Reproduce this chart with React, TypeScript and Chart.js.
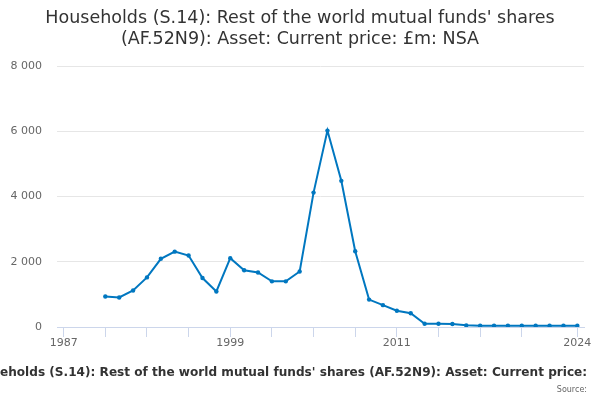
import { useEffect, useRef } from 'react';
import { Chart, registerables } from 'chart.js';

Chart.register(...registerables);

const titleLines = [
  "Households (S.14): Rest of the world mutual funds' shares",
  '(AF.52N9): Asset: Current price: £m: NSA',
];
const caption = "Households (S.14): Rest of the world mutual funds' shares (AF.52N9): Asset: Current price: £m: NSA";
const sourceText = 'Source:';

const years = [
  1990, 1991, 1992, 1993, 1994, 1995, 1996, 1997, 1998, 1999,
  2000, 2001, 2002, 2003, 2004, 2005, 2006, 2007, 2008, 2009,
  2010, 2011, 2012, 2013, 2014, 2015, 2016, 2017, 2018, 2019,
  2020, 2021, 2022, 2023, 2024,
];
const values = [
  935, 905, 1120, 1520, 2090, 2310, 2190, 1500, 1090, 2110,
  1740, 1670, 1400, 1400, 1700, 4120, 6020, 4480, 2320, 840,
  670, 500, 420, 100, 100, 90, 50, 40, 40, 40,
  40, 40, 40, 40, 40,
];
const xTicks = [1987, 1990, 1993, 1996, 1999, 2002, 2005, 2008, 2011, 2014, 2017, 2020, 2024];
const xLabels = [1987, 1999, 2011, 2024];
const yTicks = [0, 2000, 4000, 6000, 8000];

const LINE = '#0077c0';
const FONT = "'DejaVu Sans', sans-serif";

const fmt = (v: number) => String(v).replace(/\B(?=(\d{3})+(?!\d))/g, ' ');

// titles, caption and source drawn straight onto the canvas
const textPlugin = {
  id: 'textBlocks',
  afterDraw(chart: Chart) {
    const ctx = chart.ctx;
    ctx.save();
    ctx.textBaseline = 'middle';
    ctx.fillStyle = '#333333';
    ctx.textAlign = 'center';
    ctx.font = `17.5px ${FONT}`;
    ctx.fillText(titleLines[0], 300, 18);
    ctx.fillText(titleLines[1], 300, 39.5);

    // caption overflows the frame; the reference clips it on both sides
    ctx.save();
    ctx.beginPath();
    ctx.rect(0, 355, 589, 30);
    ctx.clip();
    ctx.font = `bold 12.1px ${FONT}`;
    ctx.textAlign = 'left';
    const cut = ctx.measureText('Hous').width;
    ctx.fillText(caption, -cut, 373);
    ctx.restore();

    ctx.font = `8px ${FONT}`;
    ctx.fillStyle = '#666666';
    ctx.textAlign = 'right';
    ctx.fillText(sourceText, 587, 389.5);
    ctx.restore();
  },
};

export default function App() {
  const canvasRef = useRef<HTMLCanvasElement>(null);

  useEffect(() => {
    document.body.style.margin = '0';
    if (!canvasRef.current) return;

    const chart = new Chart(canvasRef.current, {
      type: 'line',
      data: {
        datasets: [
          {
            label: caption,
            data: years.map((y, i) => ({ x: y, y: values[i] })),
            borderColor: LINE,
            backgroundColor: LINE,
            borderWidth: 2,
            pointRadius: 2.2,
            pointBorderWidth: 0,
            pointBackgroundColor: LINE,
            tension: 0,
          },
        ],
      },
      options: {
        animation: false,
        responsive: true,
        maintainAspectRatio: false,
        layout: { padding: { top: 66, right: 16, bottom: 49, left: 0 } },
        plugins: {
          legend: { display: false },
          title: { display: false },
          tooltip: { enabled: false },
        },
        scales: {
          x: {
            type: 'linear',
            min: 1986.52,
            max: 2024.48,
            afterBuildTicks: (s: any) => { s.ticks = xTicks.map(v => ({ value: v })); },
            afterFit: (s: any) => { s.height = 24; },
            grid: { drawOnChartArea: false, drawTicks: true, tickLength: 10, color: '#ccd6eb' },
            border: { color: '#ccd6eb', width: 1 },
            ticks: {
              autoSkip: false,
              maxRotation: 0,
              padding: 0,
              color: '#666666',
              font: { family: FONT, size: 11 },
              callback: (v: any) => (xLabels.includes(Number(v)) ? String(v) : ''),
            },
          },
          y: {
            min: 0,
            max: 8000,
            afterBuildTicks: (s: any) => { s.ticks = yTicks.map(v => ({ value: v })); },
            afterFit: (s: any) => { s.width = 57; },
            grid: { color: '#e6e6e6', drawTicks: false },
            border: { display: false },
            ticks: {
              padding: 15,
              color: '#666666',
              font: { family: FONT, size: 11 },
              callback: (v: any) => fmt(Number(v)),
            },
          },
        },
      },
      plugins: [textPlugin],
    });

    return () => { chart.destroy(); };
  }, []);

  return (
    <div style={{ position: 'relative', width: 600, height: 400 }}>
      <canvas ref={canvasRef} />
    </div>
  );
}
